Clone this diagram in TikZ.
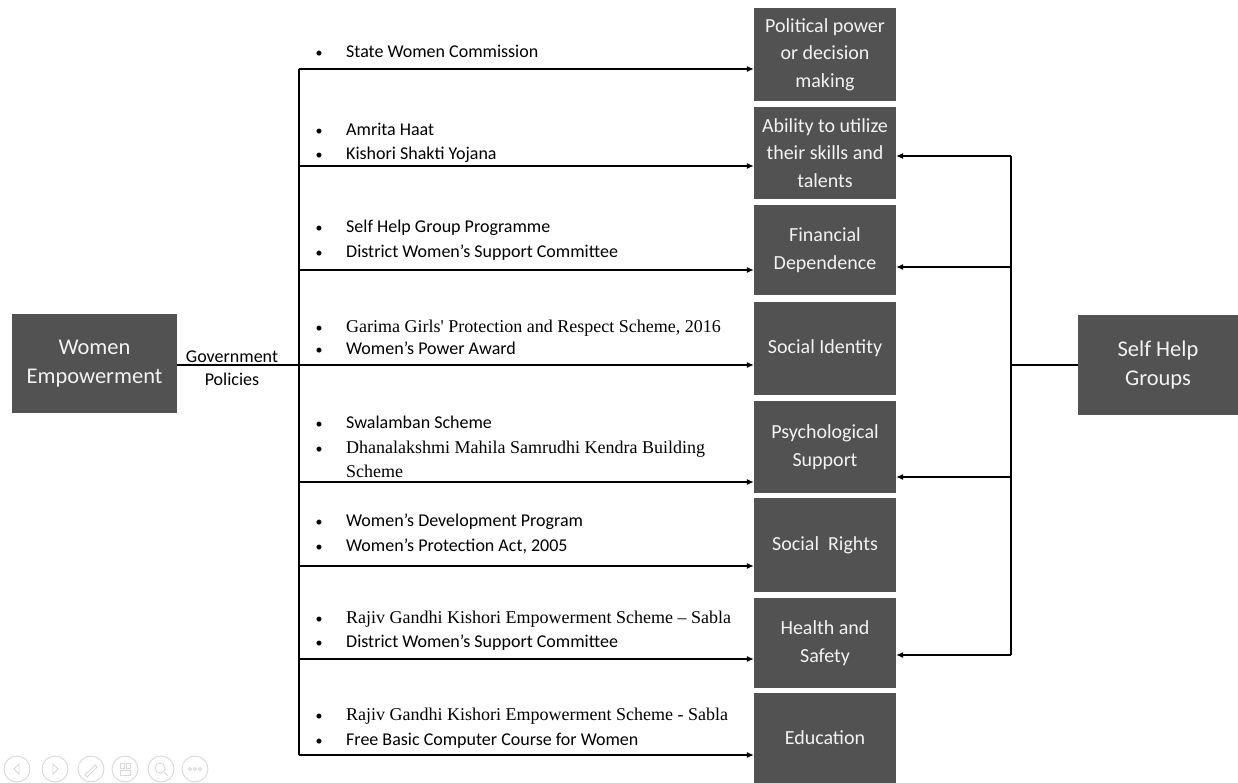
\documentclass[tikz,border=0pt]{standalone}
\usepackage{fontspec}
\setmainfont{Carlito}
\newfontfamily\timesFont[Ligatures=TeX]{Liberation Serif}
\usetikzlibrary{positioning,arrows.meta}
\tikzstyle{canvas} = [x = 1pt, y = -1pt]
\definecolor{boxColor}{RGB}{82,82,82}
\definecolor{boxTextColor}{RGB}{242,242,242}
\definecolor{iconColor}{RGB}{215,215,215}
\tikzstyle{darkBox} = [fill=boxColor, text=boxTextColor, align=center, inner sep=0pt]
\tikzstyle{goalStyle} = [darkBox, minimum width=142pt, font=\fontsize{20}{27.5}\selectfont]
\tikzstyle{endStyle} = [darkBox, font=\fontsize{22.5}{29}\selectfont]
\tikzstyle{policyText} = [anchor=base west, inner sep=0pt, font=\fontsize{18}{22}\selectfont]
\tikzstyle{policySerif} = [policyText, font=\timesFont\fontsize{18}{22}\selectfont]
\tikzstyle{bulletDot} = [anchor=base, inner sep=0pt, font=\fontsize{14}{18}\selectfont]
\tikzstyle{labelText} = [anchor=base, inner sep=0pt, font=\fontsize{18}{22}\selectfont]
\tikzstyle{linkLine} = [draw=black, line width=1.1pt]
\tikzstyle{linkArrow} = [linkLine, -{Latex[length=7pt, width=6pt]}]
\tikzstyle{iconCircle} = [circle, draw=iconColor, line width=0.9pt, minimum size=26pt, inner sep=0pt]
\tikzstyle{iconGlyph} = [draw=iconColor, line width=0.9pt]
\newcommand{\goalBox}[4]{\node [goalStyle, minimum height=#3 - #2] (#1) at (825, #2 / 2 + #3 / 2) {#4};}
\newcommand{\policyItem}[4]{
  \node [bulletDot] (#1Dot) at (319, #2) {\textbullet};
  \node [#3] (#1) at (346, #2) {#4};
}
\newcommand{\policyArrow}[3]{
  \coordinate (#1) at (299, #2);
  \draw [linkArrow] (#1) -- (#1 -| #3.west);
}
\newcommand{\helpArrow}[3]{
  \coordinate (#1) at (1011, #2);
  \draw [linkArrow] (#1) -- (#1 -| #3.east);
}

\begin{document}
\begin{tikzpicture}[canvas]
        \useasboundingbox (0,0) rectangle (1238,783);

        \node [endStyle, minimum width=165pt, minimum height=99pt] (we) at (94.5, 363.5) {Women\\Empowerment};
        \node [endStyle, minimum width=160pt, minimum height=100pt] (shg) at (1158, 365) {Self Help\\Groups};

        \goalBox{political}{8}{101}{Political power\\or decision\\making}
        \goalBox{ability}{107}{199}{Ability to utilize\\their skills and\\talents}
        \goalBox{financial}{205}{295}{Financial\\Dependence}
        \goalBox{identity}{302}{395}{Social Identity}
        \goalBox{psych}{401}{493}{Psychological\\Support}
        \goalBox{rights}{498}{592}{Social\ \ Rights}
        \goalBox{health}{598}{688}{Health and\\Safety}
        \goalBox{education}{693}{783}{Education}

        \coordinate (spineTop) at (299, 69);
        \coordinate (spineBottom) at (299, 755);
        \coordinate (govJoin) at (299, 365);
        \draw [linkLine] (spineTop) -- (spineBottom);
        \draw [linkLine] (govJoin -| we.east) -- (govJoin);
        \node [labelText] (govLabel) at (232, 362) {Government};
        \node [labelText] (polLabel) at (232, 385) {Policies};

        \policyArrow{toPolitical}{69}{political}
        \policyArrow{toAbility}{166}{ability}
        \policyArrow{toFinancial}{270}{financial}
        \policyArrow{toIdentity}{365}{identity}
        \policyArrow{toPsych}{482}{psych}
        \policyArrow{toRights}{566}{rights}
        \policyArrow{toHealth}{659}{health}
        \policyArrow{toEducation}{755}{education}

        \policyItem{stateComm}{58}{policyText}{State Women Commission}
        \policyItem{amrita}{136}{policyText}{Amrita Haat}
        \policyItem{kishori}{160}{policyText}{Kishori Shakti Yojana}
        \policyItem{shgProg}{233}{policyText}{Self Help Group Programme}
        \policyItem{districtA}{258}{policyText}{District Women’s Support Committee}
        \policyItem{garima}{332}{policySerif}{Garima Girls\textquotesingle\ Protection and Respect Scheme, 2016}
        \policyItem{powerAward}{354}{policyText}{Women’s Power Award}
        \policyItem{swalamban}{428}{policyText}{Swalamban Scheme}
        \policyItem{dhana}{453}{policySerif}{Dhanalakshmi Mahila Samrudhi Kendra Building}
        \node [policySerif] (dhanaCont) at (346, 477) {Scheme};
        \policyItem{devProg}{526}{policyText}{Women’s Development Program}
        \policyItem{protAct}{551}{policyText}{Women’s Protection Act, 2005}
        \policyItem{sablaA}{623}{policySerif}{Rajiv Gandhi Kishori Empowerment Scheme – Sabla}
        \policyItem{districtB}{647}{policyText}{District Women’s Support Committee}
        \policyItem{sablaB}{720}{policySerif}{Rajiv Gandhi Kishori Empowerment Scheme - Sabla}
        \policyItem{computer}{745}{policyText}{Free Basic Computer Course for Women}

        \coordinate (helpTop) at (1011, 156);
        \coordinate (helpBottom) at (1011, 655);
        \coordinate (helpJoin) at (1011, 365);
        \draw [linkLine] (helpTop) -- (helpBottom);
        \draw [linkLine] (shg.west) -- (helpJoin);
        \helpArrow{fromAbility}{156}{ability}
        \helpArrow{fromFinancial}{267}{financial}
        \helpArrow{fromPsych}{477}{psych}
        \helpArrow{fromHealth}{655}{health}

        \foreach \iconX [count=\iconNum] in {17,55,91,125,161,195} {
          \node [iconCircle] (icon\iconNum) at (\iconX, 769) {};
        }
        \draw [iconGlyph] ([shift={(2,-5)}]icon1.center) -- ++(-5,5) -- ++(5,5) -- cycle;
        \draw [iconGlyph] ([shift={(-2,-5)}]icon2.center) -- ++(5,5) -- ++(-5,5) -- cycle;
        \draw [iconGlyph] ([shift={(-6,6)}]icon3.center) -- ++(10,-10) -- ++(2,2) -- ++(-10,10) -- cycle;
        \draw [iconGlyph] ([shift={(-5,-6)}]icon4.center) rectangle ++(4,5);
        \draw [iconGlyph] ([shift={(1,-6)}]icon4.center) rectangle ++(4,5);
        \draw [iconGlyph] ([shift={(-5,1)}]icon4.center) rectangle ++(10,5);
        \draw [iconGlyph] ([shift={(-1,-1)}]icon5.center) circle (5);
        \draw [iconGlyph] ([shift={(3,3)}]icon5.center) -- ++(4,4);
        \foreach \dotX in {-5,0,5} {
          \draw [iconGlyph] ([shift={(\dotX,0)}]icon6.center) circle (1.5);
        }
      \end{tikzpicture}
\end{document}
